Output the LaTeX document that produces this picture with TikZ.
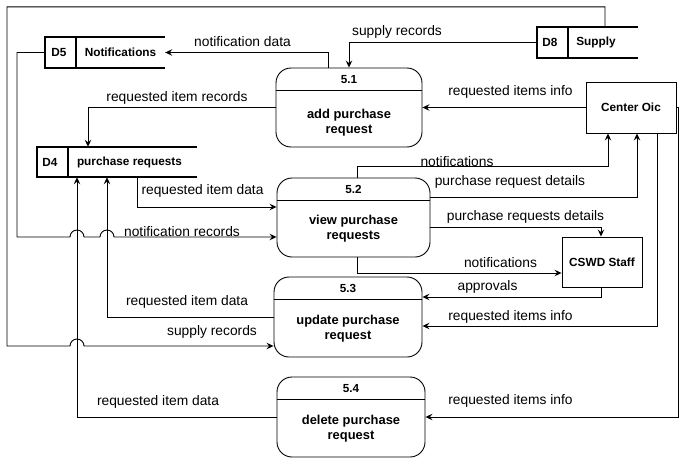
\documentclass[tikz,border=0pt]{standalone}
\usepackage{fontspec}
\setmainfont{Liberation Sans}
\usetikzlibrary{arrows.meta}
\begin{document}
\begin{tikzpicture}[x=1pt,y=-1pt,
 flow/.style={draw, line width=0.95pt, -{Stealth[length=7pt,width=6.5pt,inset=2.5pt]}},
 ln/.style={draw, line width=0.9pt},
 sln/.style={draw, line width=1.5pt},
 proc/.style={draw, line width=0.9pt, rounded corners=15pt, inner sep=0pt},
 ent/.style={draw, line width=0.9pt, inner sep=0pt, font=\fontsize{11.8}{14}\selectfont\bfseries},
 lbl/.style={font=\fontsize{13.8}{16}\selectfont, inner sep=0pt},
 pnum/.style={font=\fontsize{11.7}{14}\selectfont\bfseries, inner sep=0pt},
 ptext/.style={font=\fontsize{12.9}{15}\selectfont\bfseries, align=center, inner sep=0pt},
 stxt/.style={font=\fontsize{11.8}{14}\selectfont\bfseries, inner sep=0pt},
 shole/.style={inner sep=0pt}]
\useasboundingbox (0,0) rectangle (686,458);

% ---------- data stores ----------
\node[shole, minimum width=120pt, minimum height=31pt] (d5) at (105,52.5) {};
\draw[sln] (d5.north east) -- (d5.north west) -- (d5.south west) -- (d5.south east);
\draw[sln] ([xshift=31pt]d5.north west) -- ([xshift=31pt]d5.south west);
\node[stxt] (d5id) at (59,52.5) {D5};
\node[stxt] (d5nm) at (120.5,52.5) {Notifications};

\node[shole, minimum width=160pt, minimum height=30pt] (d4) at (117,162) {};
\draw[sln] (d4.north east) -- (d4.north west) -- (d4.south west) -- (d4.south east);
\draw[sln] ([xshift=31pt]d4.north west) -- ([xshift=31pt]d4.south west);
\node[stxt] (d4id) at (50,162) {D4};
\node[stxt] (d4nm) at (129.5,162) {purchase requests};

\node[shole, minimum width=101pt, minimum height=31pt] (d8) at (587.5,42.5) {};
\draw[sln] (d8.north east) -- (d8.north west) -- (d8.south west) -- (d8.south east);
\draw[sln] ([xshift=31pt]d8.north west) -- ([xshift=31pt]d8.south west);
\node[stxt] (d8id) at (550,42.5) {D8};
\node[stxt] (d8nm) at (596,42.5) {Supply};

% ---------- processes ----------
\node[proc, minimum width=146pt, minimum height=79pt] (p1) at (349,107.5) {};
\draw[ln] ([yshift=-23pt]p1.north west) -- ([yshift=-23pt]p1.north east);
\node[pnum] (p1n) at ([yshift=-11.5pt]p1.north) {5.1};
\node[ptext] (p1t) at ([yshift=-15.5pt]p1.center) {add purchase\\request};

\node[proc, minimum width=153pt, minimum height=79pt] (p2) at (353.5,217.5) {};
\draw[ln] ([yshift=-23pt]p2.north west) -- ([yshift=-23pt]p2.north east);
\node[pnum] (p2n) at ([yshift=-11.5pt]p2.north) {5.2};
\node[ptext] (p2t) at ([yshift=-11.5pt]p2.center) {view purchase\\requests};

\node[proc, minimum width=148pt, minimum height=80pt] (p3) at (348,317) {};
\draw[ln] ([yshift=-23pt]p3.north west) -- ([yshift=-23pt]p3.north east);
\node[pnum] (p3n) at ([yshift=-11.5pt]p3.north) {5.3};
\node[ptext] (p3t) at ([yshift=-11.5pt]p3.center) {update purchase\\request};

\node[proc, minimum width=148pt, minimum height=80pt] (p4) at (351,417) {};
\draw[ln] ([yshift=-23pt]p4.north west) -- ([yshift=-23pt]p4.north east);
\node[pnum] (p4n) at ([yshift=-11.5pt]p4.north) {5.4};
\node[ptext] (p4t) at ([yshift=-11.5pt]p4.center) {delete purchase\\request};

% ---------- external entities ----------
\node[ent, minimum width=90pt, minimum height=51pt] (oic) at (631,107.5) {Center Oic};
\node[ent, minimum width=80pt, minimum height=50pt] (cswd) at (602,262) {CSWD Staff};

% ---------- flows ----------
\draw[flow] (oic.west) -- (p1.east);
\node[lbl] (l1) at (510.5,92) {requested items info};

\draw[flow] (d8.west) -| (p1.north);
\node[lbl] (l2) at (397,32) {supply records};

\draw[flow] ([xshift=-21pt]p1.north) |- (d5.east);
\node[lbl] (l3) at (242.5,42) {notification data};

\draw[flow] (p1.west) -| ([xshift=-29pt]d4.north);
\node[lbl] (l4) at (177,98) {requested item records};

\draw[flow] ([xshift=20pt]d4.south) |- ([yshift=10.5pt]p2.west);
\node[lbl] (l5) at (202.5,191) {requested item data};

\draw[flow] (d5.west) -| (17,237) -- (70,237) arc[start angle=180,end angle=0,radius=7pt]
  -- (100,237) arc[start angle=180,end angle=0,radius=7pt] -- ([yshift=-19.5pt]p2.west);
\node[lbl] (l6) at (182,231.5) {notification records};

\draw[flow] ([xshift=17.5pt]d8.north) -- ++(0,-20) -| (7,346) -- (70,346)
  arc[start angle=180,end angle=0,radius=7pt] -- ([yshift=-29pt]p3.west);
\node[lbl] (l7) at (212,332) {supply records};

\draw[flow] (p3.west) -| ([xshift=-10pt]d4.south);
\node[lbl] (l8) at (187,302) {requested item data};

\draw[flow] (p4.west) -| ([xshift=-40pt]d4.south);
\node[lbl] (l9) at (158,402) {requested item data};

\draw[flow] ([xshift=3.5pt]p2.north) -- ++(0,-11) -| ([xshift=-23pt]oic.south);
\node[lbl] (l10) at (457,162) {notifications};

\draw[flow] ([yshift=20.5pt]p2.east) -| ([xshift=6pt]oic.south);
\node[lbl] (l11) at (510,182) {purchase request details};

\draw[flow] ([yshift=-9.5pt]p2.east) -| ([xshift=-1pt]cswd.north);
\node[lbl] (l12) at (525.5,217) {purchase requests details};

\draw[flow] ([xshift=3.5pt]p2.south) |- ([yshift=-11pt]cswd.west);
\node[lbl] (l13) at (500.5,263) {notifications};

\draw[flow] ([xshift=-1pt]cswd.south) |- ([yshift=20pt]p3.east);
\node[lbl] (l14) at (487.5,287) {approvals};

\draw[flow] ([xshift=26pt]oic.south) |- ([yshift=-9pt]p3.east);
\node[lbl] (l15) at (510.5,317) {requested items info};

\draw[flow] (oic.east) -- ++(2,0) |- (p4.east);
\node[lbl] (l16) at (510.5,401) {requested items info};
\end{tikzpicture}
\end{document}
